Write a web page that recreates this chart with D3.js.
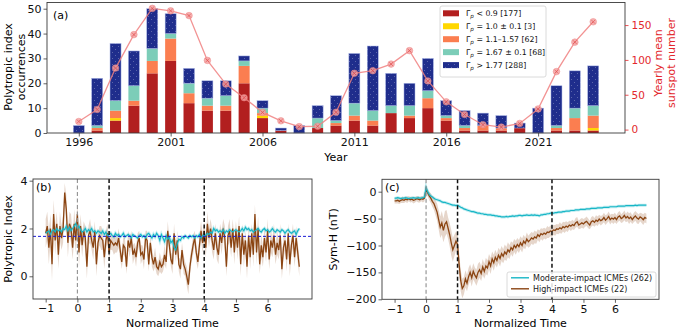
<!DOCTYPE html>
<html><head><meta charset="utf-8">
<script src="https://cdn.jsdelivr.net/npm/d3@7"></script>
<style>body{margin:0;background:#fff;} svg text{font-family:"DejaVu Sans",sans-serif;}</style>
</head><body><svg id="c" width="678" height="331"></svg>
<script>
// ---------- DATA ----------
const years = [1996,1997,1998,1999,2000,2001,2002,2003,2004,2005,2006,2007,2008,2009,2010,2011,2012,2013,2014,2015,2016,2017,2018,2019,2020,2021,2022,2023,2024];
const redCounts    = [0,1,5,11,24,29,12,9,9,20,6,1,0,2,3,5,3,8,6,10,5,1,1,1,2,0,1,1,1];
const yellowCounts = [0,0,1,0,0,0,0,0,0,0,1,0,0,0,0,0,0,0,0,0,0,0,0,0,0,0,0,0,1];
const orangeCounts = [0,1,3,2,5,9,4,2,2,7,1,0,0,0,1,2,2,0,1,4,1,1,2,1,0,0,1,5,5];
const tealCounts   = [0,1,4,6,5,2,4,3,4,2,2,0,0,4,1,5,4,3,4,3,1,1,0,0,0,0,1,4,4];
const blueCounts   = [3,19,23,14,16,8,6,7,6,2,3,1,3,5,10,20,26,13,9,13,6,6,5,5,2,10,16,15,16];
const sunspot = [11.6,28.9,88.3,136.3,173.9,170.4,163.6,99.3,65.3,45.8,24.7,12.6,4.2,4.8,24.9,80.8,84.5,94.0,113.3,69.8,39.8,21.7,7.0,3.6,8.8,29.6,83.2,125.5,154.7];
const yearTicks = [1996,2001,2006,2011,2016,2021];
const countTicks = [0,10,20,30,40,50];
const sunTicks = [0,50,100,150];
const legendLabels = ["< 0.9 [177]", "= 1.0 ± 0.1 [3]", "= 1.1–1.57 [62]", "= 1.67 ± 0.1 [68]", "> 1.77 [288]"];

// normalized-time series (step 0.05 from -1 to 7)
const polyHigh = [
 1.8,2.1,1.2,2.0,0.5,2.6,1.5,2.2,0.9,2.1,1.6,2.0,3.5,2.8,1.4,2.2,2.0,1.2,2.2,1.5,
 2.6,1.0,2.1,1.3,1.9,1.6,0.4,1.7,1.9,1.5,1.2,1.9,0.5,1.4,1.7,1.6,1.5,0.8,1.5,1.8,
 1.0,1.5,1.4,1.3,1.4,1.3,1.6,1.1,0.6,1.3,1.2,0.4,1.5,1.2,1.6,0.9,1.1,0.8,1.4,1.6,
 0.9,1.0,0.7,1.6,1.5,0.5,1.4,0.8,0.5,0.8,0.4,0.3,0.6,0.4,0.5,0.9,0.6,1.9,1.3,0.7,
 0.5,1.8,0.9,1.5,0.5,0.3,1.1,0.5,0.3,0.0,-0.35,0.4,0.9,1.3,1.6,1.0,0.6,1.3,1.9,1.4,
 1.9,1.2,2.2,1.6,2.0,1.5,1.1,1.8,1.2,0.9,1.8,1.4,2.0,1.6,0.4,1.7,1.9,1.2,2.0,1.0,
 1.9,1.2,2.1,0.5,1.8,0.9,1.5,0.4,1.7,0.8,1.8,0.9,2.6,1.0,2.0,0.5,1.3,0.8,1.6,1.0,
 1.9,0.7,1.5,1.2,1.7,0.9,1.4,1.1,1.7,0.3,1.2,1.5,0.7,1.8,0.5,1.3,1.7,0.8,1.6,1.0,
 0.4];
const polyHighErr = [
 0.6,0.6,0.7,0.6,0.7,0.6,0.6,0.5,0.6,0.6,0.5,0.6,0.4,0.6,0.6,0.5,0.6,0.5,0.6,0.5,
 0.5,0.6,0.5,0.5,0.4,0.5,0.5,0.4,0.5,0.4,0.5,0.4,0.5,0.4,0.4,0.5,0.4,0.5,0.4,0.4,
 0.4,0.4,0.3,0.4,0.4,0.3,0.4,0.4,0.3,0.4,0.4,0.3,0.4,0.4,0.3,0.4,0.3,0.4,0.4,0.3,
 0.4,0.3,0.4,0.3,0.4,0.3,0.3,0.4,0.3,0.4,0.3,0.3,0.4,0.3,0.3,0.4,0.3,0.4,0.3,0.3,
 0.4,0.4,0.3,0.4,0.3,0.4,0.3,0.4,0.3,0.4,0.4,0.4,0.3,0.4,0.3,0.4,0.3,0.4,0.4,0.4,
 0.4,0.4,0.5,0.4,0.4,0.5,0.4,0.4,0.5,0.4,0.4,0.5,0.4,0.5,0.4,0.4,0.5,0.4,0.4,0.5,
 0.4,0.5,0.4,0.5,0.4,0.5,0.4,0.5,0.4,0.5,0.4,0.5,0.4,0.5,0.5,0.4,0.5,0.4,0.5,0.4,
 0.5,0.4,0.5,0.4,0.5,0.4,0.5,0.4,0.5,0.4,0.5,0.4,0.5,0.4,0.5,0.4,0.5,0.4,0.5,0.4,
 0.4];
const polyMod = [
 1.8,1.85,1.9,1.75,1.9,1.95,1.85,2.0,1.9,1.95,1.85,2.0,1.95,2.1,1.9,2.05,1.9,2.0,2.1,2.2,
 2.0,2.1,1.95,1.85,1.9,2.0,1.85,1.95,1.9,2.0,1.85,1.9,1.8,1.9,1.85,1.8,1.9,1.75,1.85,1.7,
 1.75,1.8,1.7,1.65,1.8,1.7,1.75,1.65,1.7,1.8,1.65,1.7,1.75,1.7,1.6,1.75,1.7,1.65,1.6,1.7,
 1.75,1.65,1.7,1.6,1.75,1.8,1.7,1.6,1.75,1.65,1.8,1.7,1.5,1.75,1.6,1.45,1.7,1.55,1.65,1.4,
 1.5,1.2,1.1,1.35,1.55,1.5,1.65,1.6,1.7,1.65,1.6,1.7,1.65,1.7,1.6,1.7,1.65,1.75,1.6,1.7,
 1.75,1.7,1.8,1.75,1.85,1.8,2.0,1.9,1.95,1.85,1.9,1.85,1.95,1.8,1.9,1.85,1.95,1.9,1.85,1.9,
 1.95,1.9,1.85,1.9,2.0,1.9,2.05,1.95,2.0,1.9,1.95,1.85,1.9,1.95,2.0,1.9,1.85,1.95,2.0,1.9,
 1.95,1.85,1.9,2.0,1.9,1.85,1.95,1.9,1.85,1.95,1.9,1.8,1.9,1.95,1.85,1.8,1.85,1.9,1.75,1.9,
 2.0];
const symHigh = [
 -17,-17,-16,-18,-16,-15,-16,-14,-15,-13,-15,-14,-16,-15,-13,-14,-15,-13,-14,-12,
 5,-2,-8,-12,-18,-22,-30,-38,-52,-66,-58,-72,-60,-56,-68,-80,-95,-108,-100,-92,
 -98,-135,-165,-180,-175,-162,-170,-158,-150,-160,-148,-155,-160,-150,-145,-152,-140,-148,-138,-142,
 -130,-138,-125,-132,-122,-128,-118,-124,-115,-120,-112,-116,-108,-112,-104,-108,-100,-104,-98,-102,
 -95,-100,-92,-96,-88,-93,-90,-86,-88,-84,-86,-80,-83,-78,-80,-77,-79,-75,-76,-73,
 -74,-71,-72,-69,-70,-67,-69,-65,-67,-64,-66,-62,-64,-61,-63,-58,-56,-62,-60,-58,
 -60,-57,-55,-59,-62,-56,-54,-57,-53,-55,-51,-54,-52,-48,-53,-50,-46,-52,-49,-51,
 -48,-52,-47,-45,-50,-48,-44,-49,-46,-50,-47,-52,-48,-45,-49,-51,-47,-49,-52,-48,
 -50];
const symHighErr = [
 5,5,6,5,5,6,5,5,6,5,5,5,6,5,5,6,5,5,6,6,
 6,7,8,9,10,12,14,16,18,20,22,22,24,22,20,22,24,22,20,18,
 20,22,20,18,16,16,15,16,15,16,15,14,15,16,15,14,15,14,15,14,
 14,15,14,15,14,13,14,15,14,13,14,13,14,13,12,13,12,13,12,12,
 12,13,12,11,12,11,12,11,11,12,11,10,11,10,11,10,10,11,10,10,
 10,9,10,9,9,10,9,9,10,9,9,8,9,9,8,9,9,8,9,9,
 9,8,9,9,8,9,9,8,9,9,8,9,8,9,9,8,9,9,8,9,
 9,8,9,9,8,9,9,8,9,10,9,8,9,9,10,9,8,9,10,9,
 9];
const symMod = [
 -12,-12,-11,-12,-13,-12,-12,-11,-12,-13,-12,-12,-11,-12,-12,-11,-12,-12,-11,-10,
 8,0,-5,-8,-10,-12,-14,-15,-16,-17,-19,-20,-20,-21,-22,-23,-24,-25,-25,-26,
 -25,-27,-29,-30,-32,-33,-34,-35,-36,-37,-37,-38,-39,-40,-40,-41,-41,-42,-42,-43,
 -43,-43,-44,-44,-45,-45,-46,-46,-47,-47,-47,-46,-47,-46,-46,-45,-46,-45,-45,-44,
 -44,-45,-44,-44,-43,-44,-44,-43,-44,-43,-44,-44,-45,-43,-43,-42,-42,-41,-41,-40,
 -40,-40,-39,-39,-38,-38,-38,-37,-37,-36,-36,-36,-35,-35,-35,-34,-34,-34,-33,-33,
 -33,-33,-32,-32,-32,-31,-31,-31,-31,-30,-30,-30,-30,-29,-29,-29,-29,-28,-28,-28,
 -28,-28,-27,-27,-27,-27,-27,-26,-26,-26,-26,-26,-26,-25,-26,-25,-25,-25,-25,-25,
 -25];
const timeStart = -1, timeStep = 0.05;
const normTicks = [-1,0,1,2,3,4,5,6];
const polyTicks = [0,2,4];
const symTicks = [0,-50,-100,-150,-200];
const markerLines = [0,1,4];
const polyThreshold = 1.67;

// ---------- STYLE ----------
const C = {red:"#b21f1f", yellow:"#ffd700", orange:"#fb7e50", teal:"#7ccdb8", blue:"#1f2d8c",
           sun:"#f08080", sunAxis:"#e3282d", brown:"#8b4513", cyan:"#17b6c6", spine:"#3a3a3a"};
const svg = d3.select("#c");
const defs = svg.append("defs");
const pat = defs.append("pattern").attr("id","dots").attr("patternUnits","userSpaceOnUse")
  .attr("width",6).attr("height",6);
pat.append("rect").attr("width",6).attr("height",6).attr("fill",C.blue);
pat.append("circle").attr("cx",1.5).attr("cy",1.5).attr("r",0.45).attr("fill","#fff").attr("opacity",0.55);
pat.append("circle").attr("cx",4.5).attr("cy",4.5).attr("r",0.45).attr("fill","#fff").attr("opacity",0.55);

function styleAxis(g, fs){
  g.select(".domain").remove();
  g.selectAll(".tick line").attr("stroke",C.spine).attr("stroke-width",0.8);
  g.selectAll(".tick text").attr("font-size",fs).attr("fill","#111");
}

// ---------- PANEL A ----------
const A = {l:47, r:625, t:2.5, b:133};
const xA = d3.scaleLinear().domain([1994.27, 2025.73]).range([A.l, A.r]);
const yA = d3.scaleLinear().domain([0, 52.5]).range([A.b, A.t]);
const yS = d3.scaleLinear().domain([-4.9, 182.4]).range([A.b, A.t]);
const keys = ["red","yellow","orange","teal","blue"];
const rows = years.map((y,i)=>({year:y, red:redCounts[i], yellow:yellowCounts[i], orange:orangeCounts[i], teal:tealCounts[i], blue:blueCounts[i]}));
const stacked = d3.stack().keys(keys)(rows);
const bw = xA(0.6) - xA(0);
const fills = {red:C.red, yellow:C.yellow, orange:C.orange, teal:C.teal, blue:"url(#dots)"};
stacked.forEach(layer=>{
  svg.append("g").selectAll("rect").data(layer.filter(d=>d[1]-d[0]>0)).join("rect")
    .attr("x", d=>xA(d.data.year)-bw/2).attr("width", bw)
    .attr("y", d=>yA(d[1])).attr("height", d=>yA(d[0])-yA(d[1]))
    .attr("fill", fills[layer.key])
    .attr("stroke", layer.key==="blue" ? "#aab6e6" : "none").attr("stroke-width",0.5);
});
// sunspot line
const sunLine = d3.line().x((d,i)=>xA(years[i])).y(d=>yS(d));
svg.append("path").datum(sunspot).attr("d",sunLine).attr("fill","none")
  .attr("stroke",C.sun).attr("stroke-width",1.3).attr("opacity",0.85);
const mk = svg.append("g").selectAll("g").data(sunspot).join("g")
  .attr("transform",(d,i)=>`translate(${xA(years[i])},${yS(d)})`).attr("opacity",0.85);
mk.append("circle").attr("r",3.3).attr("fill","#f5a3a3").attr("stroke","#ef8585").attr("stroke-width",0.6);
mk.append("path").attr("d","M-1.9,-1.9L1.9,1.9M-1.9,1.9L1.9,-1.9").attr("stroke","#e04848").attr("stroke-width",0.8);

// frame
svg.append("rect").attr("x",A.l).attr("y",A.t).attr("width",A.r-A.l).attr("height",A.b-A.t)
  .attr("fill","none").attr("stroke",C.spine).attr("stroke-width",0.9);
const axA = svg.append("g").attr("transform",`translate(0,${A.b})`)
  .call(d3.axisBottom(xA).tickValues(yearTicks).tickFormat(d3.format("d")).tickSize(3.5).tickPadding(2));
styleAxis(axA, 11);
const ayA = svg.append("g").attr("transform",`translate(${A.l},0)`)
  .call(d3.axisLeft(yA).tickValues(countTicks).tickFormat(d3.format("d")).tickSize(3.5).tickPadding(2));
styleAxis(ayA, 11);
const ayS = svg.append("g").attr("transform",`translate(${A.r},0)`)
  .call(d3.axisRight(yS).tickValues(sunTicks).tickFormat(d3.format("d")).tickSize(3.5).tickPadding(3));
styleAxis(ayS, 10.5);
ayS.selectAll(".tick text").attr("fill",C.sunAxis);
ayS.selectAll(".tick line").attr("stroke",C.sunAxis);

svg.append("text").attr("x",336).attr("y",161).attr("text-anchor","middle").attr("font-size",11).text("Year");
svg.append("text").attr("transform","translate(12,67) rotate(-90)").attr("text-anchor","middle").attr("font-size",11).text("Polytropic index");
svg.append("text").attr("transform","translate(25,67) rotate(-90)").attr("text-anchor","middle").attr("font-size",11).text("occurrences");
svg.append("text").attr("transform","translate(662,63) rotate(-90)").attr("text-anchor","middle").attr("font-size",11).attr("fill",C.sunAxis).text("Yearly mean");
svg.append("text").attr("transform","translate(675,63) rotate(-90)").attr("text-anchor","middle").attr("font-size",11).attr("fill",C.sunAxis).text("sunspot number");
svg.append("text").attr("x",53).attr("y",19).attr("font-size",11).text("(a)");

// legend A
const lg = svg.append("g");
lg.append("rect").attr("x",440).attr("y",6).attr("width",106).attr("height",71).attr("rx",2)
  .attr("fill","#fff").attr("fill-opacity",0.85).attr("stroke","#d0d0d0").attr("stroke-width",0.8);
keys.forEach((k,i)=>{
  const yy = 13.3 + i*12.95;
  lg.append("rect").attr("x",443).attr("y",yy-3).attr("width",16).attr("height",6)
    .attr("fill",fills[k]);
  const t = lg.append("text").attr("x",466).attr("y",yy+3).attr("font-size",7.8).attr("fill","#111");
  t.append("tspan").text("Γ");
  t.append("tspan").attr("font-style","italic").attr("font-size",5.6).attr("dy",1.8).text("p");
  t.append("tspan").attr("dy",-1.8).text(" " + legendLabels[i]);
});

// ---------- PANELS B & C ----------
const timeGrid = polyHigh.map((d,i)=>timeStart + i*timeStep);
function panel(box, ydom, series, label){
  const x = d3.scaleLinear().domain([-1.4, 7.4]).range([box.l, box.r]);
  const y = d3.scaleLinear().domain(ydom).range([box.b, box.t]);
  const clipId = "clip"+label;
  defs.append("clipPath").attr("id",clipId).append("rect")
    .attr("x",box.l).attr("y",box.t).attr("width",box.r-box.l).attr("height",box.b-box.t);
  const g = svg.append("g").attr("clip-path",`url(#${clipId})`);
  series.forEach(s=>{
    const area = d3.area().x((d,i)=>x(timeGrid[i])).y0((d,i)=>y(d - s.err[i])).y1((d,i)=>y(d + s.err[i]));
    g.append("path").datum(s.vals).attr("d",area).attr("fill",s.color).attr("opacity",0.22);
  });
  return {x,y,g};
}
function finishPanel(box, P, yticks, label, ylabel, ylx){
  markerLines.forEach(m=>{
    svg.append("line").attr("x1",P.x(m)).attr("x2",P.x(m)).attr("y1",box.t).attr("y2",box.b)
      .attr("stroke", m===0 ? "#8f8f8f" : "#111").attr("stroke-width", m===0 ? 1.1 : 1.5)
      .attr("stroke-dasharray","4,2.5");
  });
  svg.append("rect").attr("x",box.l).attr("y",box.t).attr("width",box.r-box.l).attr("height",box.b-box.t)
    .attr("fill","none").attr("stroke",C.spine).attr("stroke-width",0.9);
  const ax = svg.append("g").attr("transform",`translate(0,${box.b})`)
    .call(d3.axisBottom(P.x).tickValues(normTicks).tickFormat(d3.format("d")).tickSize(3.5).tickPadding(2));
  styleAxis(ax, 11);
  const ay = svg.append("g").attr("transform",`translate(${box.l},0)`)
    .call(d3.axisLeft(P.y).tickValues(yticks).tickFormat(d3.format("d")).tickSize(3.5).tickPadding(2));
  styleAxis(ay, 11);
  svg.append("text").attr("x",(box.l+box.r)/2).attr("y",327).attr("text-anchor","middle").attr("font-size",11).text("Normalized Time");
  svg.append("text").attr("transform",`translate(${ylx},${(box.t+box.b)/2}) rotate(-90)`).attr("text-anchor","middle").attr("font-size",11).text(ylabel);
  svg.append("text").attr("x",box.l+3).attr("y",box.t+12).attr("font-size",11).text(label);
}

// Panel B
const B = {l:33, r:312, t:179, b:299};
const PB = panel(B, [-0.95, 4.07], [{vals:polyHigh, err:polyHighErr, color:C.brown}], "b");
const lineB = d3.line().x((d,i)=>PB.x(timeGrid[i])).y(d=>PB.y(d));
PB.g.append("path").datum(polyMod).attr("d",lineB).attr("fill","none").attr("stroke",C.cyan).attr("stroke-width",3).attr("opacity",0.25);
PB.g.append("path").datum(polyHigh).attr("d",lineB).attr("fill","none").attr("stroke",C.brown).attr("stroke-width",1.3);
PB.g.append("path").datum(polyMod).attr("d",lineB).attr("fill","none").attr("stroke",C.cyan).attr("stroke-width",1.2);
PB.g.append("line").attr("x1",B.l).attr("x2",B.r).attr("y1",PB.y(polyThreshold)).attr("y2",PB.y(polyThreshold))
  .attr("stroke","#1a1ad6").attr("stroke-width",1).attr("stroke-dasharray","3,2");
finishPanel(B, PB, polyTicks, "(b)", "Polytropic Index", 12);

// Panel C
const Cb = {l:382, r:659, t:179.3, b:299.3};
const PC = panel(Cb, [-200, 23], [{vals:symHigh, err:symHighErr, color:C.brown}], "c");
const lineC = d3.line().x((d,i)=>PC.x(timeGrid[i])).y(d=>PC.y(d));
PC.g.append("path").datum(symMod).attr("d",lineC).attr("fill","none").attr("stroke",C.cyan).attr("stroke-width",3).attr("opacity",0.25);
PC.g.append("path").datum(symHigh).attr("d",lineC).attr("fill","none").attr("stroke",C.brown).attr("stroke-width",1.3);
PC.g.append("path").datum(symMod).attr("d",lineC).attr("fill","none").attr("stroke",C.cyan).attr("stroke-width",1.2);
finishPanel(Cb, PC, symTicks, "(c)", "Sym-H (nT)", 337);

// legend C
const lc = svg.append("g");
lc.append("rect").attr("x",507).attr("y",272).attr("width",149).attr("height",25).attr("rx",2)
  .attr("fill","#fff").attr("fill-opacity",0.85).attr("stroke","#d0d0d0").attr("stroke-width",0.8);
[["Moderate-impact ICMEs (262)", C.cyan],["High-impact ICMEs (22)", C.brown]].forEach((e,i)=>{
  const yy = 277.8 + i*11;
  lc.append("line").attr("x1",511).attr("x2",529).attr("y1",yy).attr("y2",yy).attr("stroke",e[1]).attr("stroke-width",1.4);
  lc.append("text").attr("x",533).attr("y",yy+3).attr("font-size",8).attr("fill","#222").text(e[0]);
});
</script>
</body></html>
